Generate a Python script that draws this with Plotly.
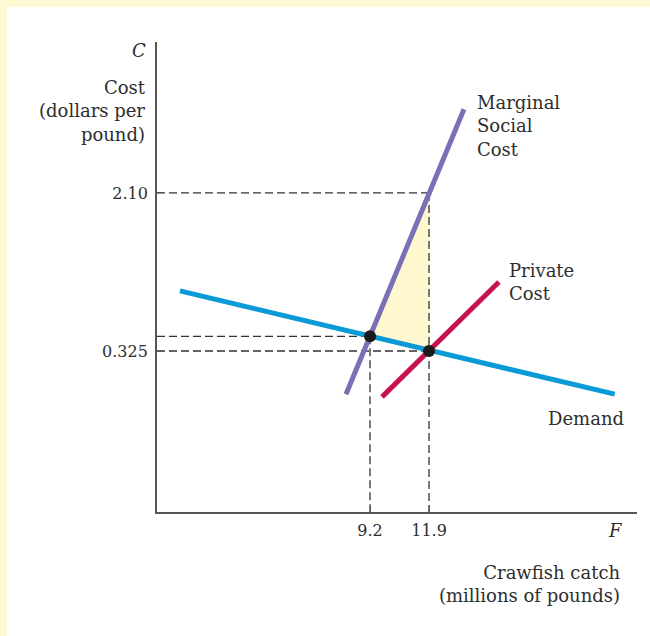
import plotly.graph_objects as go

# curves (millions of pounds, dollars per pound) - schematic
demand_x = [0.5, 20.4]
demand_y = [1.0, -0.16]
msc_x = [8.1, 13.5]
msc_y = [-0.16, 3.04]
private_x = [9.75, 15.1]
private_y = [-0.19, 1.10]

# equilibria: social optimum (9.2) and private market (11.9)
eq_x = [9.2, 11.9]
eq_y = [0.49, 0.325]
msc_at_market = 2.10

x_ticks = [9.2, 11.9]
x_ticklabels = ["9.2", "11.9"]
y_ticks = [0.325, 2.10]
y_ticklabels = ["0.325", "2.10"]

x_range = [-0.55, 21.42]
y_range = [-1.483, 3.795]

FONT = "DejaVu Serif"
TXT = "#2e2e2e"

fig = go.Figure()

# deadweight loss triangle
fig.add_trace(go.Scatter(
    x=[eq_x[0], eq_x[1], eq_x[1]], y=[eq_y[0], msc_at_market, eq_y[1]],
    fill="toself", fillcolor="#FFF8CF", mode="lines", line=dict(width=0),
    hoverinfo="skip"))

dash = dict(color="#333333", width=1.3, dash="8px,4px")
x0, y0 = x_range[0], y_range[0]
# horizontal guides
for xe, ye in [(eq_x[0], eq_y[0]), (eq_x[1], eq_y[1]), (eq_x[1], msc_at_market)]:
    fig.add_trace(go.Scatter(x=[x0, xe], y=[ye, ye], mode="lines", line=dash, hoverinfo="skip"))
# vertical guides
fig.add_trace(go.Scatter(x=[eq_x[0], eq_x[0]], y=[eq_y[0], y0], mode="lines", line=dash, hoverinfo="skip"))
fig.add_trace(go.Scatter(x=[eq_x[1], eq_x[1]], y=[msc_at_market, y0], mode="lines", line=dash, hoverinfo="skip"))

fig.add_trace(go.Scatter(x=demand_x, y=demand_y, mode="lines",
                         line=dict(color="#0A9AD7", width=5), name="Demand"))
fig.add_trace(go.Scatter(x=msc_x, y=msc_y, mode="lines",
                         line=dict(color="#7A70B6", width=5), name="Marginal Social Cost"))
fig.add_trace(go.Scatter(x=private_x, y=private_y, mode="lines",
                         line=dict(color="#C8114F", width=5), name="Private Cost"))

fig.add_trace(go.Scatter(x=eq_x, y=eq_y, mode="markers",
                         marker=dict(color="#1a1a1a", size=12), hoverinfo="skip"))


# pixel -> paper fraction (plot area is 157..637 x 42..512)
def px_x(p):
    return (p - 157) / 480


def px_y(p):
    return (512 - p) / 470


notes = [
    ("<i>C</i>", 148, 50, "right", "right"),
    ("Cost<br>(dollars per<br>pound)", 148, 111, "right", "right"),
    ("<i>F</i>", 625, 530, "right", "right"),
    ("Crawfish catch<br>(millions of pounds)", 622, 584, "right", "right"),
    ("Marginal<br>Social<br>Cost", 475, 126, "left", "left"),
    ("Private<br>Cost", 507, 282, "left", "left"),
    ("Demand", 626, 418, "right", "right"),
]
for text, ax, ay, xa, al in notes:
    fig.add_annotation(x=px_x(ax), y=px_y(ay), xref="paper", yref="paper",
                       text=text, showarrow=False,
                       xanchor=xa, yanchor="middle", align=al,
                       font=dict(family=FONT, size=18, color=TXT))

# white page on a pale yellow frame
fig.add_shape(type="rect", xref="paper", yref="paper",
              x0=px_x(7), x1=px_x(652), y0=px_y(640), y1=px_y(7),
              fillcolor="white", line=dict(width=0), layer="below")

fig.update_layout(
    width=650, height=636,
    margin=dict(l=157, r=13, t=42, b=124),
    paper_bgcolor="#FFFAD4", plot_bgcolor="rgba(0,0,0,0)",
    showlegend=False,
    font=dict(family=FONT, color=TXT),
    xaxis=dict(range=x_range, showgrid=False, zeroline=False, showline=True,
               linecolor="#555555", linewidth=1.8, tickvals=x_ticks, ticktext=x_ticklabels,
               ticks="inside", ticklen=6, tickcolor="#555555", ticklabelstandoff=3,
               tickfont=dict(family=FONT, size=16, color=TXT)),
    yaxis=dict(range=y_range, showgrid=False, zeroline=False, showline=True,
               linecolor="#555555", linewidth=1.8, tickvals=y_ticks, ticktext=y_ticklabels,
               ticks="inside", ticklen=6, tickcolor="#555555", ticklabelstandoff=4,
               tickfont=dict(family=FONT, size=16, color=TXT)),
)

fig.write_html("out.html", config={"displayModeBar": False},
               post_script="document.body.style.margin='0';")
